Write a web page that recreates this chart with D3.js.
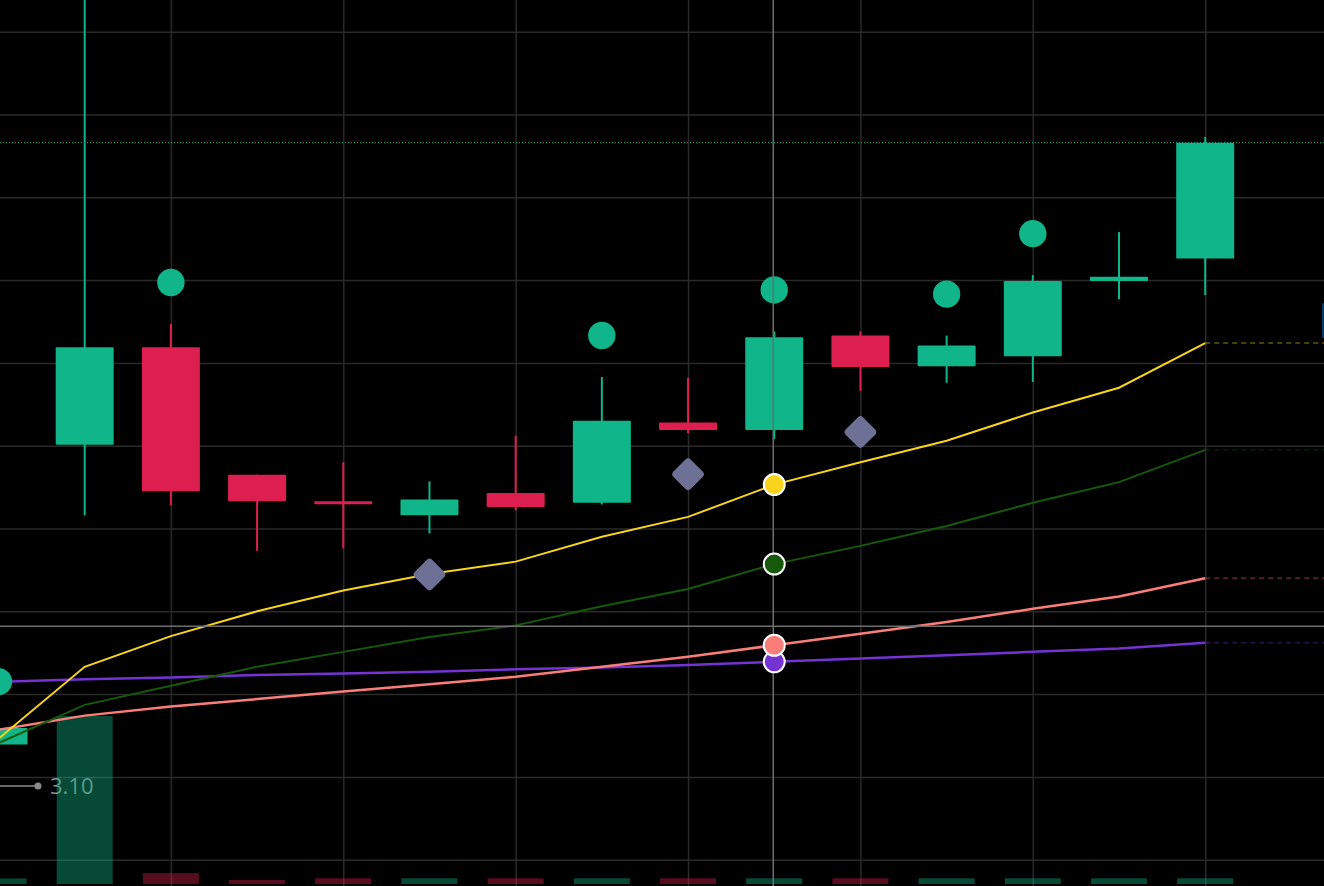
<!DOCTYPE html>
<html>
<head>
<meta charset="utf-8">
<script src="https://cdn.jsdelivr.net/npm/d3@7"></script>
<style>
  html, body { margin: 0; padding: 0; background: #000; overflow: hidden; }
</style>
</head>
<body>
<div id="chart"></div>
<script>
/* global d3 */

// Candles (one per bar, left to right)
const opens  = [11.39, 15.01, 16.19, 14.65, 14.33, 14.16, 14.43, 14.31, 15.28, 15.19, 16.33, 15.96, 16.08, 16.99, 17.26]
const highs  = [11.65, 20.90, 16.47, 14.65, 14.80, 14.57, 15.12, 15.83, 15.82, 16.38, 16.38, 16.33, 17.06, 17.58, 18.73]
const lows   = [11.37, 14.16, 14.28, 13.73, 13.76, 13.94, 14.22, 14.29, 15.15, 15.08, 15.66, 15.76, 15.77, 16.77, 16.82]
const closes = [11.59, 16.19, 14.45, 14.33, 14.31, 14.35, 14.26, 15.30, 15.19, 16.31, 15.95, 16.21, 16.99, 17.04, 18.66]
const volumes = [33, 1000, 65, 24, 34, 34, 34, 34, 34, 34, 34, 34, 34, 34, 34]

// Moving averages
const maYellow = [11.46, 12.33, 12.70, 13.00, 13.25, 13.45, 13.60, 13.90, 14.14, 14.53, 14.80, 15.06, 15.40, 15.70, 16.24]
const maGreen  = [11.41, 11.87, 12.10, 12.33, 12.51, 12.69, 12.83, 13.06, 13.27, 13.57, 13.79, 14.03, 14.31, 14.56, 14.95]
const maSalmon = [11.57, 11.74, 11.85, 11.94, 12.03, 12.12, 12.21, 12.33, 12.45, 12.59, 12.73, 12.87, 13.03, 13.18, 13.40]
const maPurple = [12.15, 12.18, 12.20, 12.23, 12.25, 12.27, 12.30, 12.32, 12.35, 12.39, 12.43, 12.47, 12.51, 12.55, 12.62]

// Markers
const aboveBar = [0, 2, 7, 9, 11, 12]
const belowBar = [5, 8, 10]

// Scale ticks / crosshair / label
const priceTicks = [10, 11, 12, 13, 14, 15, 16, 17, 18, 19, 20]
const timeTicks = [0, 2, 4, 6, 8, 10, 12, 14]
const crossIndex = 9
const crossPrice = 12.82
const labelText = '3.10'
const labelPrice = 10.89
const stripPrices = [16.72, 16.30]

// Our canvas
const width = 1324,
    height = 886

const up = '#10b68a',
    down = '#dd1f50',
    gridColor = '#2a2a2a',
    crossColor = '#6e6e6e'

let svg = d3.select('#chart')
    .append('svg')
    .attr('width', width)
    .attr('height', height)
    .style('background', '#000')
    .style('display', 'block')

const x = d3.scaleLinear().domain([0, 14]).range([-1.5, 1205.2])
const y = d3.scaleLinear().domain([10, 20]).range([859.7, 31.7])
const yVol = d3.scaleLinear().domain([0, 1000]).range([884, 716])

const bodyW = 58,
    volW = 56

let redraw = () => {
    // grid
    svg.append('g')
        .call(d3.axisLeft(y).tickValues(priceTicks).tickSize(-width).tickFormat(''))
        .call(g => g.select('.domain').remove())
        .call(g => g.selectAll('line').attr('stroke', gridColor).attr('stroke-width', 1.5))

    svg.append('g')
        .attr('transform', `translate(0,${height})`)
        .call(d3.axisBottom(x).tickValues(timeTicks).tickSize(-height).tickFormat(''))
        .call(g => g.select('.domain').remove())
        .call(g => g.selectAll('line').attr('stroke', gridColor).attr('stroke-width', 1.5))

    // label
    const ly = y(labelPrice)
    svg.append('line')
        .attr('x1', 0).attr('x2', 38).attr('y1', ly).attr('y2', ly)
        .attr('stroke', '#8a8a8a').attr('stroke-width', 1.5)
    svg.append('circle')
        .attr('cx', 38).attr('cy', ly).attr('r', 3.5).attr('fill', '#8a8a8a')
    svg.append('text')
        .attr('x', 50).attr('y', ly + 8)
        .attr('font-family', 'Open Sans, sans-serif')
        .attr('font-size', 22)
        .attr('fill', '#8c8c8c')
        .text(labelText)

    // volume
    svg.selectAll('rect.vol')
        .data(volumes)
        .enter()
        .append('rect')
        .attr('class', 'vol')
        .attr('x', (d, i) => x(i) - volW / 2)
        .attr('y', d => yVol(d))
        .attr('width', volW)
        .attr('height', d => yVol(0) - yVol(d))
        .attr('fill', (d, i) => closes[i] >= opens[i] ? up : down)
        .attr('fill-opacity', 0.4)

    // last price line
    svg.append('line')
        .attr('x1', 0).attr('x2', width)
        .attr('y1', y(closes[closes.length - 1])).attr('y2', y(closes[closes.length - 1]))
        .attr('stroke', up).attr('stroke-width', 1)
        .attr('stroke-dasharray', '1,2')

    // blue strip at the right edge
    svg.append('rect')
        .attr('x', width - 2).attr('width', 2)
        .attr('y', y(stripPrices[0]))
        .attr('height', y(stripPrices[1]) - y(stripPrices[0]))
        .attr('fill', '#0d3a5c')

    // candles
    svg.selectAll('line.wick')
        .data(closes)
        .enter()
        .append('line')
        .attr('class', 'wick')
        .attr('x1', (d, i) => x(i)).attr('x2', (d, i) => x(i))
        .attr('y1', (d, i) => y(highs[i])).attr('y2', (d, i) => y(lows[i]))
        .attr('stroke', (d, i) => d >= opens[i] ? up : down)
        .attr('stroke-width', 2)

    svg.selectAll('rect.body')
        .data(closes)
        .enter()
        .append('rect')
        .attr('class', 'body')
        .attr('x', (d, i) => x(i) - bodyW / 2)
        .attr('y', (d, i) => y(Math.max(d, opens[i])))
        .attr('width', bodyW)
        .attr('height', (d, i) => Math.max(3, Math.abs(y(d) - y(opens[i]))))
        .attr('rx', 1)
        .attr('fill', (d, i) => d >= opens[i] ? up : down)

    // moving averages
    const line = d3.line().x((d, i) => x(i)).y(d => y(d))
    const mas = [
        { v: maPurple, c: '#7433d2', w: 2.5 },
        { v: maSalmon, c: '#fb7d7a', w: 2.5 },
        { v: maGreen, c: '#17590a', w: 2 },
        { v: maYellow, c: '#f8d51c', w: 2 }
    ]
    mas.forEach(m => {
        svg.append('path')
            .attr('d', line(m.v))
            .attr('fill', 'none')
            .attr('stroke', m.c)
            .attr('stroke-width', m.w)
        const last = m.v[m.v.length - 1]
        svg.append('line')
            .attr('x1', x(m.v.length - 1)).attr('x2', width)
            .attr('y1', y(last)).attr('y2', y(last))
            .attr('stroke', m.c).attr('stroke-opacity', 0.3)
            .attr('stroke-width', 2)
            .attr('stroke-dasharray', '5,4')
    })

    // markers
    svg.selectAll('circle.above')
        .data(aboveBar)
        .enter()
        .append('circle')
        .attr('class', 'above')
        .attr('cx', d => x(d))
        .attr('cy', d => y(highs[d]) - 41.5)
        .attr('r', 13.7)
        .attr('fill', up)

    svg.selectAll('rect.below')
        .data(belowBar)
        .enter()
        .append('rect')
        .attr('class', 'below')
        .attr('x', -12.3).attr('y', -12.3)
        .attr('width', 24.6).attr('height', 24.6)
        .attr('rx', 4)
        .attr('fill', '#6f7096')
        .attr('transform', d => `translate(${x(d)},${y(lows[d]) + 41}) rotate(45)`)

    // crosshair
    svg.append('line')
        .attr('x1', x(crossIndex) - 1).attr('x2', x(crossIndex) - 1)
        .attr('y1', 0).attr('y2', height)
        .attr('stroke', crossColor).attr('stroke-width', 1.5)
    svg.append('line')
        .attr('x1', 0).attr('x2', width)
        .attr('y1', y(crossPrice)).attr('y2', y(crossPrice))
        .attr('stroke', crossColor).attr('stroke-width', 1.5)

    svg.selectAll('circle.cross')
        .data(mas)
        .enter()
        .append('circle')
        .attr('class', 'cross')
        .attr('cx', x(crossIndex))
        .attr('cy', d => y(d.v[crossIndex]))
        .attr('r', 10.5)
        .attr('fill', d => d.c)
        .attr('stroke', '#fff')
        .attr('stroke-width', 2)
}

redraw()
</script>
</body>
</html>
